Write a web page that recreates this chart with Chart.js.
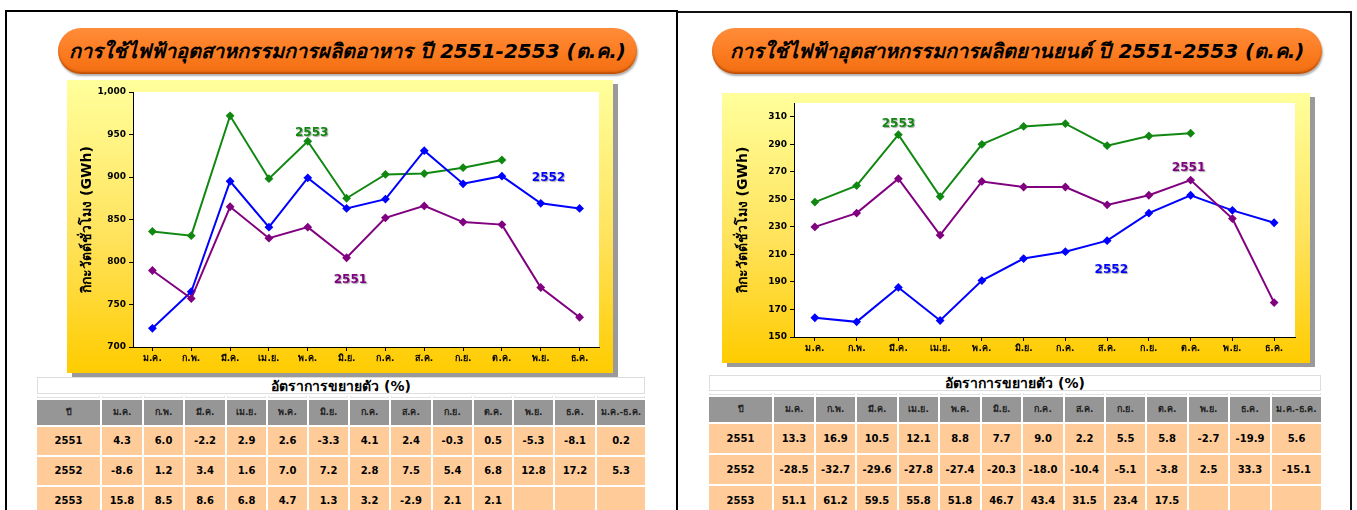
<!DOCTYPE html>
<html>
<head>
<meta charset="utf-8">
<script src="https://cdn.jsdelivr.net/npm/chart.js@4.4.1/dist/chart.umd.min.js"></script>
<style>
  body { margin: 0; width: 1357px; height: 510px; overflow: hidden; background: #fff;
         font-family: Tahoma, "DejaVu Sans", "Noto Sans", sans-serif; }
  .panel { position: absolute; box-sizing: border-box; }
  #panelL { left: 5px; top: 10px; width: 673px; height: 520px; border: 2px solid #000; }
  #panelR { left: 677px; top: 11px; width: 675px; height: 520px; border: 2px solid #111; border-left: none; }
  .pill { position: absolute; height: 46px; border-radius: 23px;
          background: linear-gradient(#ff8c3a, #fb7a1e 60%, #f26d12);
          box-shadow: inset 0 -2px 2px rgba(150,60,0,0.6), 1px 2px 2px rgba(120,120,120,0.6);
          color: #000; font-weight: bold; font-style: italic; font-size: 20px;
          line-height: 46px; text-align: center; white-space: nowrap; }
  .ybox { position: absolute; background: linear-gradient(#ffff9c, #ffe25a 55%, #ffcc00);
          box-shadow: 5px 4px 0 #9a9a9a; }
  .ybox canvas { position: absolute; left: 0; top: 0; }
  .g { position: absolute; display: grid; gap: 2px; background: #fff; }
  .g div { display: flex; align-items: center; justify-content: center; font-weight: bold;
           font-size: 10px; line-height: 1; white-space: nowrap; overflow: hidden; }
  .g .t { grid-column: 1 / -1; border: 1px solid #ddd; font-size: 14px; }
  .g .s { border: 1px solid #e2e2e2; border-top: none; }
  .g .h { background: #969696; color: #222; font-size: 9px; }
  .g .d { background: #ffcc99; color: #000; }
</style>
</head>
<body>
<div class="panel" id="panelL"></div>
<div class="panel" id="panelR"></div>

<div class="pill" style="left:58px; top:28px; width:579px;">การใช้ไฟฟ้าอุตสาหกรรมการผลิตอาหาร ปี 2551-2553 (ต.ค.)</div>
<div class="pill" style="left:712px; top:28px; width:610px;">การใช้ไฟฟ้าอุตสาหกรรมการผลิตยานยนต์ ปี 2551-2553 (ต.ค.)</div>

<div class="ybox" style="left:67px; top:80px; width:546px; height:293px;">
  <canvas id="chartL" width="546" height="293"></canvas>
</div>
<div class="ybox" style="left:722px; top:93px; width:588px; height:270px;">
  <canvas id="chartR" width="588" height="270"></canvas>
</div>

<div class="g" id="tableL" style="left:37px; top:377px;"></div>
<div class="g" id="tableR" style="left:709px; top:375px;"></div>

<script>
// เดือน
const mois = ['ม.ค.', 'ก.พ.', 'มี.ค.', 'เม.ย.', 'พ.ค.', 'มิ.ย.', 'ก.ค.', 'ส.ค.', 'ก.ย.', 'ต.ค.', 'พ.ย.', 'ธ.ค.'];
const annees = ['2551', '2552', '2553'];

// อาหาร (GWh)
const aliment2551 = [790, 757, 865, 828, 841, 805, 852, 866, 847, 844, 770, 735];
const aliment2552 = [722, 765, 895, 841, 899, 863, 874, 931, 892, 901, 869, 863];
const aliment2553 = [836, 831, 972, 898, 942, 875, 903, 904, 911, 920, null, null];
const alimentTicks = [700, 750, 800, 850, 900, 950, 1000];
const alimentMax = 1000;

// ยานยนต์ (GWh)
const auto2551 = [230, 240, 265, 224, 263, 259, 259, 246, 253, 264, 236, 175];
const auto2552 = [164, 161, 186, 162, 191, 207, 212, 220, 240, 253, 242, 233];
const auto2553 = [248, 260, 297, 252, 290, 303, 305, 289, 296, 298, null, null];
const autoTicks = [150, 170, 190, 210, 230, 250, 270, 290, 310];
const autoMax = 320;

// ป้ายชื่อเส้น: [ข้อความ, ตำแหน่งเดือน, ค่า]
const etiquettesAliment = [['2553', 4.1, 952], ['2552', 10.2, 899], ['2551', 5.1, 779]];
const etiquettesAuto = [['2553', 2.0, 305], ['2551', 8.95, 273], ['2552', 7.1, 199]];

// อัตราการขยายตัว (%)
const enteteTable = ['ปี', ...mois, 'ม.ค.-ธ.ค.'];
const croissanceAliment2551 = ['4.3', '6.0', '-2.2', '2.9', '2.6', '-3.3', '4.1', '2.4', '-0.3', '0.5', '-5.3', '-8.1', '0.2'];
const croissanceAliment2552 = ['-8.6', '1.2', '3.4', '1.6', '7.0', '7.2', '2.8', '7.5', '5.4', '6.8', '12.8', '17.2', '5.3'];
const croissanceAliment2553 = ['15.8', '8.5', '8.6', '6.8', '4.7', '1.3', '3.2', '-2.9', '2.1', '2.1', '', '', ''];
const croissanceAuto2551 = ['13.3', '16.9', '10.5', '12.1', '8.8', '7.7', '9.0', '2.2', '5.5', '5.8', '-2.7', '-19.9', '5.6'];
const croissanceAuto2552 = ['-28.5', '-32.7', '-29.6', '-27.8', '-27.4', '-20.3', '-18.0', '-10.4', '-5.1', '-3.8', '2.5', '33.3', '-15.1'];
const croissanceAuto2553 = ['51.1', '61.2', '59.5', '55.8', '51.8', '46.7', '43.4', '31.5', '23.4', '17.5', '', '', ''];

const couleurs = { '2551': '#800080', '2552': '#0000ff', '2553': '#118811' };
const policeThai = 'Tahoma, "DejaVu Sans", "Noto Sans", sans-serif';

// fond blanc de la zone de tracé + étiquettes
const pluginFond = {
  id: 'fond',
  beforeDraw(chart) {
    const a = chart.chartArea;
    chart.ctx.save();
    chart.ctx.fillStyle = '#fff';
    chart.ctx.fillRect(a.left, a.top, a.right - a.left, a.bottom - a.top);
    chart.ctx.restore();
  },
  afterDatasetsDraw(chart, args, opts) {
    const ctx = chart.ctx;
    ctx.save();
    ctx.font = 'bold 12px ' + policeThai;
    ctx.textAlign = 'center';
    ctx.textBaseline = 'middle';
    ctx.shadowColor = 'rgba(0,0,0,0.35)';
    ctx.shadowOffsetX = 1;
    ctx.shadowOffsetY = 1;
    ctx.shadowBlur = 1;
    for (const e of opts.etiquettes) {
      ctx.fillStyle = couleurs[e[0]];
      ctx.fillText(e[0], chart.scales.x.getPixelForValue(e[1]), chart.scales.y.getPixelForValue(e[2]));
    }
    ctx.restore();
  }
};

function serie(nom, valeurs) {
  return {
    label: nom,
    data: valeurs,
    borderColor: couleurs[nom],
    backgroundColor: couleurs[nom],
    borderWidth: 2,
    pointStyle: 'rectRot',
    pointRadius: 3,
    pointHoverRadius: 3,
    tension: 0
  };
}

function creerGraphique(id, d2551, d2552, d2553, ticks, max, etiquettes, pad, largeurY) {
  new Chart(document.getElementById(id), {
    type: 'line',
    data: {
      labels: mois,
      datasets: [serie('2551', d2551), serie('2552', d2552), serie('2553', d2553)]
    },
    options: {
      responsive: false,
      animation: false,
      layout: { padding: pad },
      plugins: {
        legend: { display: false },
        tooltip: { enabled: false },
        fond: { etiquettes: etiquettes }
      },
      scales: {
        x: {
          offset: true,
          grid: { drawOnChartArea: false, color: '#000', tickLength: 4 },
          border: { color: '#000', width: 1 },
          ticks: { color: '#000', font: { family: policeThai, size: 9, weight: 'bold' }, maxRotation: 0, padding: 2 },
          afterFit(s) { s.height = 26; }
        },
        y: {
          min: ticks[0],
          max: max,
          afterBuildTicks(s) { s.ticks = ticks.map(v => ({ value: v })); },
          grid: { drawOnChartArea: false, color: '#000', tickLength: 4 },
          border: { color: '#000', width: 1 },
          ticks: {
            color: '#000',
            font: { family: policeThai, size: 9, weight: 'bold' },
            padding: 3,
            callback: v => v.toLocaleString('en-US')
          },
          title: {
            display: true,
            text: 'กิกะวัตต์ชั่วโมง (GWh)',
            color: '#000',
            font: { family: policeThai, size: 14, weight: 'bold' },
            padding: 0
          },
          afterFit(s) { s.width = largeurY; }
        }
      }
    },
    plugins: [pluginFond]
  });
}

creerGraphique('chartL', aliment2551, aliment2552, aliment2553, alimentTicks, alimentMax, etiquettesAliment,
  { left: 12, right: 14, top: 12, bottom: 0 }, 54);
creerGraphique('chartR', auto2551, auto2552, auto2553, autoTicks, autoMax, etiquettesAuto,
  { left: 13, right: 15, top: 10, bottom: 0 }, 59);

function remplirTable(id, lignes, largeurs, hauteurs) {
  const t = document.getElementById(id);
  t.style.gridTemplateColumns = largeurs.map(w => w + 'px').join(' ');
  t.style.gridTemplateRows = hauteurs.map(h => h + 'px').join(' ');
  let html = '<div class="t">อัตราการขยายตัว (%)</div>';
  html += enteteTable.map(() => '<div class="s"></div>').join('');
  html += enteteTable.map(m => '<div class="h">' + m + '</div>').join('');
  lignes.forEach((l, i) => {
    html += '<div class="d">' + annees[i] + '</div>' + l.map(v => '<div class="d">' + v + '</div>').join('');
  });
  t.innerHTML = html;
}

const largeursL = [63, 40, 39, 40, 39, 39, 39, 39, 40, 39, 38, 39, 40, 48];
const largeursR = [63, 40, 39, 40, 39, 40, 39, 40, 39, 39, 40, 39, 40, 49];
remplirTable('tableL', [croissanceAliment2551, croissanceAliment2552, croissanceAliment2553], largeursL, [17, 2, 25, 28, 28, 28]);
remplirTable('tableR', [croissanceAuto2551, croissanceAuto2552, croissanceAuto2553], largeursR, [16, 2, 25, 29, 29, 29]);
</script>
</body>
</html>
